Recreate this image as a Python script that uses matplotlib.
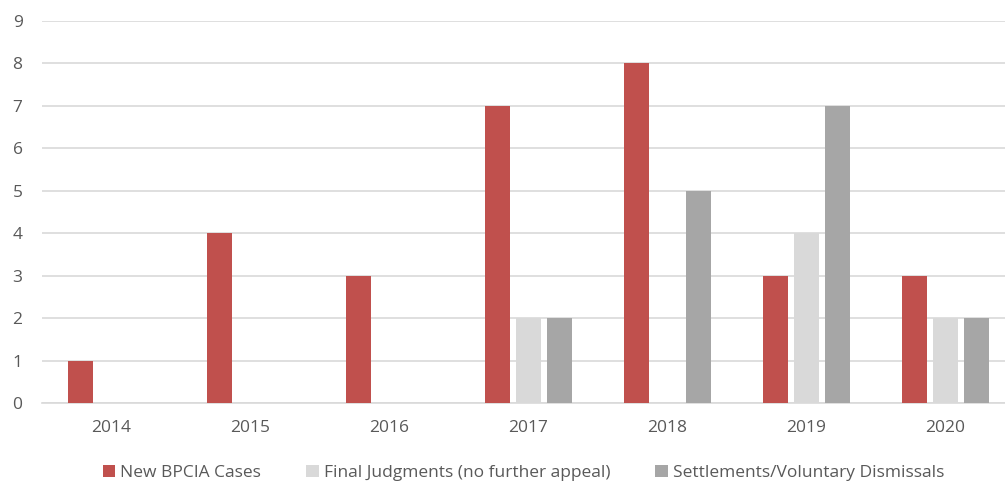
import numpy as np
import matplotlib.pyplot as plt

# case counts per year
years = ["2014", "2015", "2016", "2017", "2018", "2019", "2020"]
new_cases = [1, 4, 3, 7, 8, 3, 3]
final_judgments = [0, 0, 0, 2, 0, 4, 2]
settlements = [0, 0, 0, 2, 5, 7, 2]

labels = ["New BPCIA Cases", "Final Judgments (no further appeal)",
          "Settlements/Voluntary Dismissals"]
colors = ["#C0504D", "#D9D9D9", "#A6A6A6"]

plt.rcParams['font.family'] = ['Open Sans', 'DejaVu Sans']
text_color = "#595959"

fig = plt.figure(figsize=(10.05, 4.83), dpi=100)
ax = fig.add_axes([0.0418, 0.1656, 0.968, 0.7909])

x = np.arange(len(years))
w = 0.18
off = 0.223
for i, (vals, lab, col) in enumerate(zip([new_cases, final_judgments, settlements], labels, colors)):
    ax.bar(x + (i - 1) * off, vals, width=w, color=col, label=lab, zorder=3)

ax.set_xlim(-0.5, len(years) - 0.5)
ax.set_ylim(0, 9)
ax.set_yticks(range(0, 10))
ax.set_xticks(x)
ax.set_xticklabels(years)

ax.grid(axis='y', color="#D9D9D9", linewidth=1.2, zorder=0)
for s in ["top", "right", "left"]:
    ax.spines[s].set_visible(False)
ax.spines["bottom"].set_color("#D9D9D9")
ax.spines["bottom"].set_linewidth(1.2)
ax.tick_params(axis='both', length=0, labelsize=12.5, colors=text_color)
ax.tick_params(axis='y', pad=14)
ax.tick_params(axis='x', pad=12)

fig.legend(loc="center", bbox_to_anchor=(0.521, 0.021), ncol=3, frameon=False,
           fontsize=12.5, handlelength=0.7, handleheight=0.7, handletextpad=0.3,
           columnspacing=2.6, labelcolor=text_color)

fig.savefig("out.png", dpi=100)
